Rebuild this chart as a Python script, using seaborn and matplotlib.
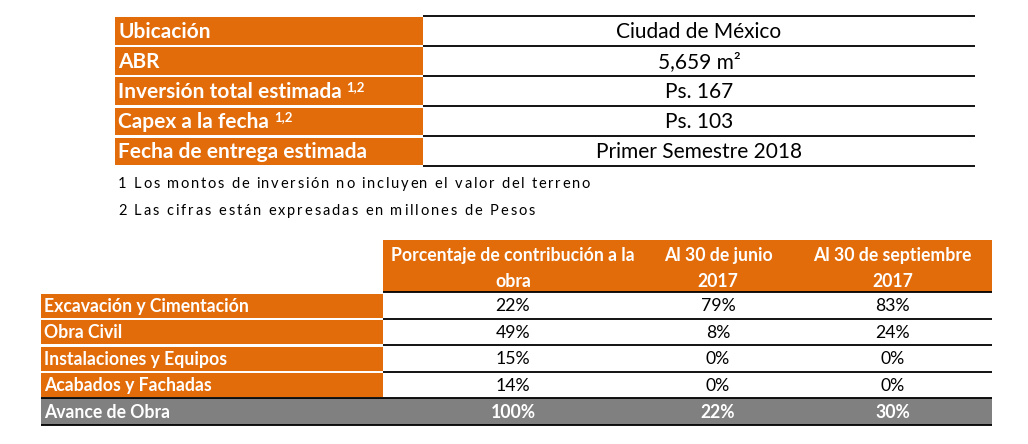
import matplotlib
matplotlib.use("Agg")
import matplotlib.pyplot as plt
import matplotlib.patches as mpatches
import seaborn as sns

# ---- data ----
info_labels = ["Ubicación", "ABR", "Inversión total estimada", "Capex a la fecha", "Fecha de entrega estimada"]
info_sup = ["", "", "1,2", "1,2", ""]
info_values = ["Ciudad de México", "5,659 m²", "Ps. 167", "Ps. 103", "Primer Semestre 2018"]
notes = ["1 Los montos de inversión no incluyen el valor del terreno",
         "2 Las cifras están expresadas en millones de Pesos"]

headers = [("Porcentaje de contribución a la", "obra"),
           ("Al 30 de junio", "2017"),
           ("Al 30 de septiembre", "2017")]
stages = ["Excavación y Cimentación", "Obra Civil", "Instalaciones y Equipos", "Acabados y Fachadas"]
contribution = [22, 49, 15, 14]
jun_2017 = [79, 8, 0, 0]
sep_2017 = [83, 24, 0, 0]
total_label = "Avance de Obra"
totals = [100, 22, 30]

ORANGE = "#E26B0A"
GREY = "#808080"

sns.set_theme(style="white")
plt.rcParams["font.family"] = ["Lato", "DejaVu Sans"]

fig = plt.figure(figsize=(10.28, 4.44), dpi=100)
ax = fig.add_axes([0, 0, 1, 1])
ax.set_xlim(0, 1028)
ax.set_ylim(444, 0)
ax.axis("off")
renderer = fig.canvas.get_renderer()


def text_width(s, **kw):
    t = ax.text(0, 0, s, **kw)
    w = t.get_window_extent(renderer).width
    t.remove()
    return w


def spaced_text(x, y, s, right, **kw):
    # footnotes in the original are letter-spaced out to a given right edge
    bar = text_width("|", **kw)
    full = text_width(s + "|", **kw) - bar
    tracking = (right - x - full) / (len(s) - 1)
    for i, ch in enumerate(s):
        if ch != " ":
            ax.text(x + text_width(s[:i] + "|", **kw) - bar + i * tracking,
                    y, ch, ha="left", va="center", **kw)


# ---- top table ----
lx0, lx1, rx1 = 115, 423, 975
top0, rh = 16, 30
for i, (lab, sup, val) in enumerate(zip(info_labels, info_sup, info_values)):
    y = top0 + i * rh
    ax.add_patch(mpatches.Rectangle((lx0, y + 1.5), lx1 - lx0, rh - 2.5, color=ORANGE, lw=0))
    t = ax.text(lx0 + 3, y + rh / 2 + 1, lab, color="white", fontweight="bold",
                fontsize=15, va="center", ha="left")
    if sup:
        ax.annotate(sup, xy=(1, 1), xycoords=t, xytext=(3.5, -4), textcoords="offset points",
                    color="white", fontweight="bold", fontsize=9.5, va="center", ha="left")
    ax.text((lx1 + rx1) / 2, y + rh / 2 + 1, val, color="black", fontsize=15,
            va="center", ha="center")
for i in range(len(info_labels) + 1):
    ax.plot([lx1, rx1], [top0 + i * rh] * 2, color="black", lw=1.3, solid_capstyle="butt")

note_right = [590, 535]
for i, n in enumerate(notes):
    spaced_text(118, 184 + i * 27, n, note_right[i], color="black", fontsize=10.5)

# ---- bottom table ----
bx0, bx1 = 41, 383
col_edges = [383, 643, 793, 992]
h0, h1 = 240, 292
brh = 26.5
fs = 12.7
ax.add_patch(mpatches.Rectangle((bx1, h0), col_edges[-1] - bx1, h1 - h0, color=ORANGE, lw=0))
centers = [(col_edges[k] + col_edges[k + 1]) / 2 for k in range(3)]
for k, (l1, l2) in enumerate(headers):
    ax.text(centers[k], 255, l1, color="white", fontweight="bold", fontsize=fs, va="center", ha="center")
    ax.text(centers[k], 281, l2, color="white", fontweight="bold", fontsize=fs, va="center", ha="center")

cols = [contribution, jun_2017, sep_2017]
for i, st in enumerate(stages):
    y = h1 + i * brh
    ax.add_patch(mpatches.Rectangle((bx0, y + 1.5), bx1 - bx0, brh - 2.5, color=ORANGE, lw=0))
    ax.text(bx0 + 3, y + brh / 2 + 1, st, color="white", fontweight="bold", fontsize=fs,
            va="center", ha="left")
    for k in range(3):
        ax.text(centers[k], y + brh / 2 + 1, f"{cols[k][i]}%", color="black", fontsize=fs,
                va="center", ha="center")

yt = h1 + len(stages) * brh
ax.add_patch(mpatches.Rectangle((bx0, yt), col_edges[-1] - bx0, brh, color=GREY, lw=0))
ax.text(bx0 + 3, yt + brh / 2 + 1, total_label, color="white", fontweight="bold", fontsize=fs,
        va="center", ha="left")
for k in range(3):
    ax.text(centers[k], yt + brh / 2 + 1, f"{totals[k]}%", color="white", fontweight="bold",
            fontsize=fs, va="center", ha="center")

for i in range(len(stages)):
    ax.plot([bx1, col_edges[-1]], [h1 + i * brh] * 2, color="black", lw=1.3, solid_capstyle="butt")
ax.plot([bx0, col_edges[-1]], [yt] * 2, color="black", lw=1.3, solid_capstyle="butt")
ax.plot([bx0, col_edges[-1]], [yt + brh] * 2, color="black", lw=1.3, solid_capstyle="butt")

fig.savefig("out.png", dpi=100)
